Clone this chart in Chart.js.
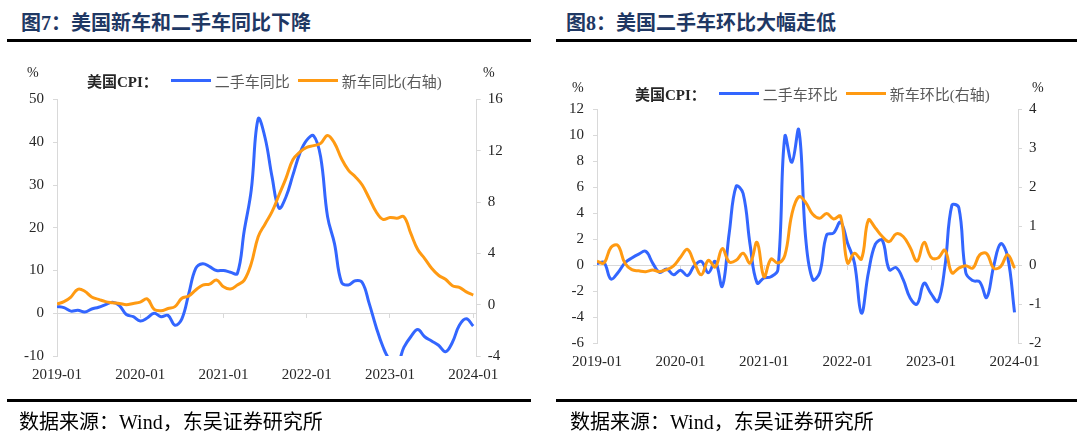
<!DOCTYPE html>
<html lang="zh-CN">
<head>
<meta charset="utf-8">
<title>美国新车和二手车CPI</title>
<script src="https://cdn.jsdelivr.net/npm/chart.js@4.4.1/dist/chart.umd.min.js"></script>
<style>
  html, body { margin: 0; padding: 0; background: #fff; }
  body { width: 1080px; height: 436px; position: relative; overflow: hidden;
         font-family: "Liberation Serif", "Noto Sans CJK SC", serif; }
  .title { position: absolute; top: 7px; font-weight: 700; font-size: 20px; color: #1f3864; white-space: nowrap; }
  .rule { position: absolute; height: 3px; background: #000; }
  .source { position: absolute; top: 406px; font-size: 20px; color: #000; white-space: nowrap; }
  .panel { position: absolute; top: 0; width: 540px; height: 436px; }
  .panel canvas { position: absolute; left: 0; top: 0; }
  .unit { position: absolute; font-size: 14px; color: #262626; }
  .legend { position: absolute; display: flex; align-items: center; font-size: 15px; color: #595959; white-space: nowrap; }
  .legend b { color: #262626; margin-right: 13px; }
  .legend .swatch { display: inline-block; width: 40px; height: 3px; margin-right: 4px; }
  .legend .item { display: flex; align-items: center; margin-right: 8px; }
</style>
</head>
<body>

<div class="title" style="left:21px">图7：美国新车和二手车同比下降</div>
<div class="title" style="left:566px">图8：美国二手车环比大幅走低</div>
<div class="rule" style="left:7px; width:524px; top:39px"></div>
<div class="rule" style="left:556px; width:521px; top:39px"></div>

<div class="panel" style="left:0">
  <canvas id="yoyChart" width="540" height="436"></canvas>
  <div class="unit" style="left:27px; top:65px">%</div>
  <div class="unit" style="left:483px; top:65px">%</div>
  <div class="legend" id="yoyLegend" style="left:87px; top:70px"></div>
</div>
<div class="panel" style="left:540px">
  <canvas id="momChart" width="540" height="436"></canvas>
  <div class="unit" style="left:32px; top:80px">%</div>
  <div class="unit" style="left:492px; top:80px">%</div>
  <div class="legend" id="momLegend" style="left:95px; top:83px"></div>
</div>

<div class="rule" style="left:7px; width:524px; top:399px"></div>
<div class="rule" style="left:556px; width:521px; top:399px"></div>
<div class="source" style="left:19px">数据来源：Wind，东吴证券研究所</div>
<div class="source" style="left:570px">数据来源：Wind，东吴证券研究所</div>

<script>
// Monthly categories 2019-01 .. 2024-01
const months = [];
for (let y = 2019; y <= 2024; y++) {
    for (let m = 1; m <= 12; m++) {
        if (y === 2024 && m > 1) break;
        months.push(y + '-' + String(m).padStart(2, '0'));
    }
}
const tickLabels = ['2019-01', '2020-01', '2021-01', '2022-01', '2023-01', '2024-01'];

// 图7: year-over-year (%)
const usedCarYoY = [
    1.6, 1.3, 0.5, 0.7, 0.3, 1.0, 1.4, 2.0, 2.6, 1.8,
    -0.3, -0.8, -1.8, -1.1, 0.0, -0.8, -0.5, -2.8, -1.3, 4.6,
    10.5, 11.6, 10.9, 10.0, 10.0, 9.6, 9.3, 19.4, 28.8, 45.5,
    41.0, 31.9, 24.6, 27.2, 32.3, 37.4, 40.5, 41.5, 36.6, 22.6,
    16.3, 7.3, 6.6, 7.6, 7.2, 2.3, -3.2, -7.9, -11.0, -12.0,
    -8.0, -5.5, -3.8, -5.5, -6.5, -7.5, -9.0, -6.8, -2.8, -1.3, -3.0
];
const newCarYoY = [
    0.05, 0.24, 0.6, 1.2, 1.05, 0.6, 0.42, 0.24, 0.16, 0.1,
    0.0, 0.1, 0.2, 0.45, -0.36, -0.47, -0.3, -0.15, 0.5, 0.68,
    1.15, 1.53, 1.6, 1.92, 1.4, 1.22, 1.53, 1.92, 3.2, 5.3,
    6.3, 7.25, 8.55, 9.85, 11.3, 11.9, 12.27, 12.4, 12.58, 13.2,
    12.6, 11.4, 10.5, 9.98, 9.33, 8.3, 7.25, 6.65, 6.8, 6.75,
    6.86, 5.56, 4.3, 3.6, 2.84, 2.3, 1.98, 1.48, 1.35, 1.0, 0.75
];

// 图8: month-over-month (%)
const usedCarMoM = [
    0.1, 0.2, -1.08, -0.6, 0.15, 0.54, 0.84, 1.05, 0.15, -0.57,
    -0.3, -0.75, -0.4, -0.82, -0.05, 0.28, -0.6, 0.28, -1.64, 2.46,
    6.05, 5.5, 1.56, -1.38, -1.0, -0.9, -0.35, 9.9, 7.9, 10.4,
    2.0, -1.13, -0.6, 2.3, 2.46, 3.3, 1.7, 0.15, -3.7, -0.6,
    1.6, 1.9, -0.36, -0.2, -1.13, -2.54, -3.0, -1.4, -2.2, -2.8,
    -0.1, 4.6, 4.4, -0.6, -1.2, -1.3, -2.5, -0.1, 1.64, 0.66, -3.64
];
const newCarMoM = [
    0.1, 0.05, 0.45, 0.5, 0.05, -0.12, -0.15, -0.17, -0.13, -0.17,
    -0.12, -0.02, 0.2, 0.4, 0.05, -0.25, 0.12, -0.05, 0.42, 0.08,
    0.12, 0.3, 0.05, 0.58, -0.3, 0.15, 0.05, 0.25, 1.3, 1.75,
    1.6, 1.3, 1.2, 1.32, 1.18, 1.25, 0.05, 0.3, 0.15, 1.15,
    0.95, 0.73, 0.6, 0.8, 0.73, 0.45, 0.1, 0.58, 0.2, 0.18,
    0.38, -0.2, -0.08, -0.02, -0.08, 0.26, 0.29, -0.08, -0.04, 0.26, -0.08
];

const BLUE = '#3366ff';
const ORANGE = '#ff9a12';
const AXIS_GRAY = '#d9d9d9';
const TICK_FONT = { family: 'Liberation Serif', size: 15 };
const tickIdx = tickLabels.map(l => months.indexOf(l));

function toPoints(values) {
    return months.map((m, i) => ({ x: i, y: values[i] }));
}

function fixWidth(w) {
    return scale => { scale.width = w; };
}

function createChart(canvasId, series, leftRange, rightRange, padding) {
    const ctx = document.getElementById(canvasId);
    const datasets = series.map(s => ({
        label: s.name,
        data: toPoints(s.values),
        yAxisID: s.axis,
        xAxisID: 'x',
        borderColor: s.color,
        backgroundColor: s.color,
        borderWidth: 3,
        pointRadius: 0,
        tension: 0.4,
        fill: false,
        order: s.order
    }));

    const yAxis = (range, position) => ({
        type: 'linear',
        position: position,
        min: range[0],
        max: range[1],
        afterFit: fixWidth(40),
        ticks: {
            stepSize: range[2],
            color: '#262626',
            font: TICK_FONT,
            padding: position === 'left' ? 9 : 7
        },
        grid: { drawOnChartArea: false, color: AXIS_GRAY, tickLength: 4 },
        border: { color: AXIS_GRAY, width: 1 }
    });

    return new Chart(ctx, {
        type: 'line',
        data: { datasets: datasets },
        options: {
            responsive: false,
            animation: false,
            layout: { padding: padding },
            plugins: { legend: { display: false }, tooltip: { enabled: false } },
            scales: {
                // axis line through zero with small tick marks
                x: {
                    type: 'linear',
                    position: { y: 0 },
                    min: 0,
                    max: 60.5,
                    afterBuildTicks: scale => { scale.ticks = tickIdx.map(v => ({ value: v })); },
                    ticks: { display: false },
                    grid: { drawOnChartArea: false, color: AXIS_GRAY, tickLength: 4 },
                    border: { color: AXIS_GRAY, width: 1 }
                },
                // date labels along the bottom
                x2: {
                    type: 'linear',
                    position: 'bottom',
                    min: 0,
                    max: 60.5,
                    afterFit: scale => { scale.height = 30; },
                    afterBuildTicks: scale => { scale.ticks = tickIdx.map(v => ({ value: v })); },
                    ticks: {
                        color: '#262626',
                        font: TICK_FONT,
                        padding: 10,
                        maxRotation: 0,
                        autoSkip: false,
                        callback: v => months[v]
                    },
                    grid: { display: false, drawTicks: false },
                    border: { display: false }
                },
                y: yAxis(leftRange, 'left'),
                y1: yAxis(rightRange, 'right')
            }
        }
    });
}

function buildLegend(elId, series) {
    const el = document.getElementById(elId);
    let html = '<b>美国CPI：</b>';
    series.forEach(s => {
        html += '<span class="item"><span class="swatch" style="background:' + s.color + '"></span>' + s.name + '</span>';
    });
    el.innerHTML = html;
}

const yoySeries = [
    { name: '二手车同比', values: usedCarYoY, axis: 'y', color: BLUE, order: 1 },
    { name: '新车同比(右轴)', values: newCarYoY, axis: 'y1', color: ORANGE, order: 0 }
];
const momSeries = [
    { name: '二手车环比', values: usedCarMoM, axis: 'y', color: BLUE, order: 1 },
    { name: '新车环比(右轴)', values: newCarMoM, axis: 'y1', color: ORANGE, order: 0 }
];

createChart('yoyChart', yoySeries, [-10, 50, 10], [-4, 16, 4],
    { left: 17, right: 23.3, top: 99.5, bottom: 50 });
createChart('momChart', momSeries, [-6, 12, 2], [-2, 4, 1],
    { left: 17, right: 22, top: 109, bottom: 63 });

buildLegend('yoyLegend', yoySeries);
buildLegend('momLegend', momSeries);
</script>
</body>
</html>
